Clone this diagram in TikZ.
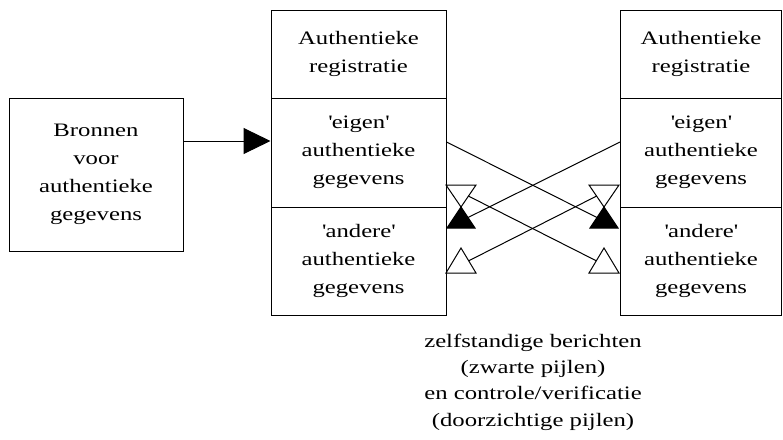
\documentclass[tikz,border=0pt]{standalone}
\usepackage{fontspec}
\setmainfont[FakeStretch=1.3]{Liberation Serif}
\usetikzlibrary{arrows.meta,calc}
\newcommand{\sq}{\textquotesingle}

\begin{document}
\begin{tikzpicture}[x=1pt,y=-1pt,
  box/.style={draw, line width=1pt, inner sep=0pt, align=center,
    font=\fontsize{19}{28}\selectfont},
  wire/.style={draw, line width=1pt},
  opentri/.style={draw, line width=1pt, fill=white, line join=miter},
  solidtri/.style={draw, line width=1pt, fill=black, line join=miter}]
\useasboundingbox (0,0) rectangle (783,439);

% source box
\node[box, minimum width=174pt, minimum height=153pt] (src) at (96,174.5)
  {Bronnen\\voor\\authentieke\\gegevens};

% first registration
\node[box, minimum width=175pt, minimum height=88pt]  (regAhead)  at (358.5,54)    {Authentieke\\registratie};
\node[box, minimum width=175pt, minimum height=109pt] (regAown)   at (358.5,152.5) {\sq eigen\sq\\authentieke\\gegevens};
\node[box, minimum width=175pt, minimum height=108pt] (regAother) at (358.5,261)   {\sq andere\sq\\authentieke\\gegevens};

% second registration
\node[box, minimum width=161pt, minimum height=88pt]  (regBhead)  at (701,54)    {Authentieke\\registratie};
\node[box, minimum width=161pt, minimum height=109pt] (regBown)   at (701,152.5) {\sq eigen\sq\\authentieke\\gegevens};
\node[box, minimum width=161pt, minimum height=108pt] (regBother) at (701,261)   {\sq andere\sq\\authentieke\\gegevens};

% feed into the first registration
\draw[wire, -{Triangle[length=27pt,width=26pt]}]
  ([yshift=33.5pt]src.east) -- ([yshift=33.5pt]src.east -| regAown.west);

% tips of the triangle markers
\coordinate (lDownTip) at (461,207);
\coordinate (lBlkTip)  at (461,207);
\coordinate (lUpTip)   at (461,248);
\coordinate (rDownTip) at (604,207);
\coordinate (rBlkTip)  at (604,207);
\coordinate (rUpTip)   at (604,248);

% centres of the triangle markers
\coordinate (lDownC) at (461,192.3);
\coordinate (lBlkC)  at (461,221);
\coordinate (lUpC)   at (461,264.7);
\coordinate (rDownC) at (604,192.3);
\coordinate (rBlkC)  at (604,221);
\coordinate (rUpC)   at (604,264.7);

% messages (black) and checks (open)
\draw[wire] ([yshift=10.5pt]regAown.east) -- (rBlkC);
\draw[wire] ([yshift=10.5pt]regBown.west) -- (lBlkC);
\draw[wire] (lDownC) -- (rUpC);
\draw[wire] (rDownC) -- (lUpC);

% triangle markers
\draw[opentri]  (lDownTip) -- ++(-15,-22) -- ++(30,0) -- cycle;
\draw[solidtri] (lBlkTip)  -- ++(-14,21)  -- ++(28,0) -- cycle;
\draw[opentri]  (lUpTip)   -- ++(-15,25)  -- ++(30,0) -- cycle;
\draw[opentri]  (rDownTip) -- ++(-15,-22) -- ++(30,0) -- cycle;
\draw[solidtri] (rBlkTip)  -- ++(-14,21)  -- ++(28,0) -- cycle;
\draw[opentri]  (rUpTip)   -- ++(-15,25)  -- ++(30,0) -- cycle;

% caption
\node[align=center, inner sep=0pt, font=\fontsize{19}{26.3}\selectfont] (caption) at (533,382)
  {zelfstandige berichten\\(zwarte pijlen)\\en controle/verificatie\\(doorzichtige pijlen)};
\end{tikzpicture}
\end{document}
